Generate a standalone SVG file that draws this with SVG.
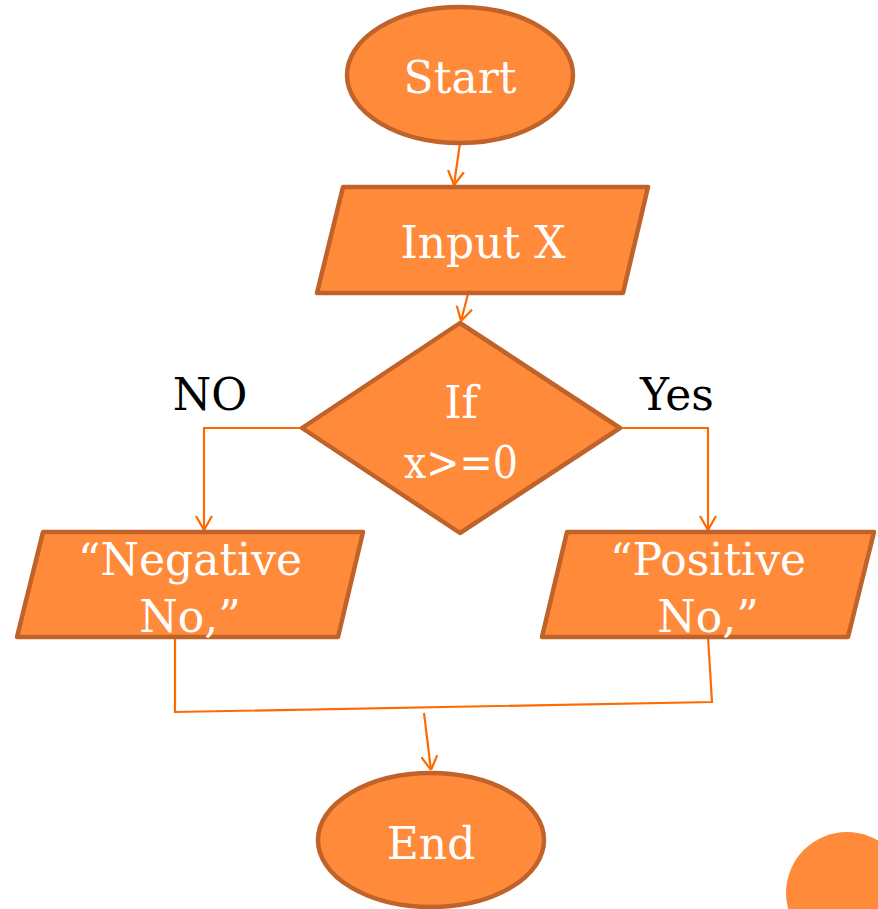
<svg xmlns="http://www.w3.org/2000/svg" width="878" height="909" viewBox="0 0 878 909">
<defs>
<style>
.shape{fill:#FF8A3A;stroke:#C0632B;stroke-width:4.5;stroke-linejoin:round}
.lbl{font-family:"DejaVu Serif","Liberation Serif",serif;font-size:44px;fill:#FFFFFF;text-anchor:middle}
.side{font-family:"DejaVu Serif","Liberation Serif",serif;font-size:44px;fill:#000000;text-anchor:middle}
.conn{fill:none;stroke:#FF6A00;stroke-width:2.2}
</style>
<marker id="arr" viewBox="0 0 14 18" refX="14" refY="9" markerWidth="14" markerHeight="18" markerUnits="userSpaceOnUse" orient="auto">
<path d="M0,1 L14,9 L0,17" fill="none" stroke="#FF6A00" stroke-width="2.2"/>
</marker>
</defs>
<rect width="878" height="909" fill="#FFFFFF"/>
<g id="connectors">
<path class="conn" d="M460,143 L454,185" marker-end="url(#arr)"/>
<path class="conn" d="M468,294 L461,321" marker-end="url(#arr)"/>
<path class="conn" d="M302,428 L204,428 L204,530" marker-end="url(#arr)"/>
<path class="conn" d="M620,428 L708,428 L708,530" marker-end="url(#arr)"/>
<path class="conn" d="M175,637 L175,712 L712,702 L708,637"/>
<path class="conn" d="M424,713 L431,770" marker-end="url(#arr)"/>
</g>
<g id="start">
<ellipse class="shape" cx="460" cy="75" rx="113" ry="68"/>
<text class="lbl" x="460" y="93">Start</text>
</g>
<g id="input">
<polygon class="shape" points="343,187 648,187 623,293 317,293"/>
<text class="lbl" x="483" y="258">Input X</text>
</g>
<g id="decision">
<polygon class="shape" points="460,323 620,428 460,533 302,428"/>
<text class="lbl" x="461" y="418">If</text>
<text class="lbl" x="461" y="478" textLength="114" lengthAdjust="spacingAndGlyphs">x&gt;=0</text>
</g>
<g id="labels">
<text class="side" x="210" y="410">NO</text>
<text class="side" x="677" y="410">Yes</text>
</g>
<g id="negative">
<polygon class="shape" points="43,532 363,532 338,637 17,637"/>
<text class="lbl" x="190" y="575">“Negative</text>
<text class="lbl" x="190" y="632">No,”</text>
</g>
<g id="positive">
<polygon class="shape" points="567,532 874,532 848,637 542,637"/>
<text class="lbl" x="708" y="575">“Positive</text>
<text class="lbl" x="708" y="632">No,”</text>
</g>
<g id="end">
<ellipse class="shape" cx="431" cy="840" rx="113" ry="67"/>
<text class="lbl" x="431" y="859">End</text>
</g>
<circle cx="847" cy="893" r="61" fill="#FF8A3A"/>
</svg>
